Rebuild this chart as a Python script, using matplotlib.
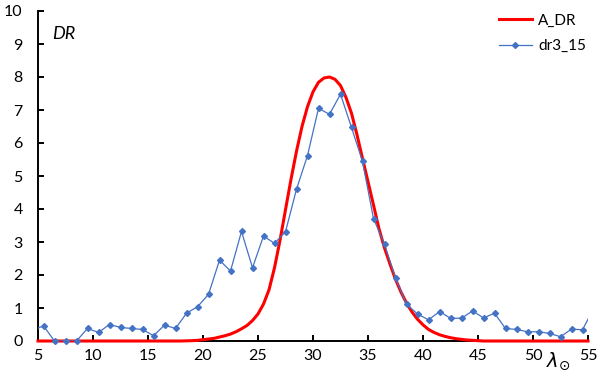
import matplotlib
matplotlib.use("Agg")
import matplotlib.pyplot as plt
from matplotlib.lines import Line2D

plt.rcParams['font.family'] = ['Lato', 'DejaVu Sans']

# dr3_15 measured points (half-integer solar longitudes)
dr_x = [4.5, 5.5, 6.5, 7.5, 8.5, 9.5, 10.5, 11.5, 12.5, 13.5, 14.5, 15.5, 16.5,
        17.5, 18.5, 19.5, 20.5, 21.5, 22.5, 23.5, 24.5, 25.5, 26.5, 27.5, 28.5,
        29.5, 30.5, 31.5, 32.5, 33.5, 34.5, 35.5, 36.5, 37.5, 38.5, 39.5, 40.5,
        41.5, 42.5, 43.5, 44.5, 45.5, 46.5, 47.5, 48.5, 49.5, 50.5, 51.5, 52.5,
        53.5, 54.5, 55.5]
dr_y = [0.32, 0.46, 0.0, 0.0, 0.0, 0.38, 0.26, 0.50, 0.41, 0.38, 0.35, 0.16, 0.48,
        0.38, 0.84, 1.04, 1.41, 2.45, 2.12, 3.32, 2.22, 3.18, 2.96, 3.31, 4.60,
        5.62, 7.05, 6.87, 7.48, 6.47, 5.44, 3.71, 2.93, 1.90, 1.11, 0.82, 0.64,
        0.89, 0.69, 0.69, 0.91, 0.70, 0.84, 0.38, 0.35, 0.28, 0.28, 0.23, 0.13,
        0.36, 0.34, 0.98]

# A_DR model curve
a_x = [5, 18, 19, 19.5, 20, 20.5, 21, 21.5, 22, 22.5, 23, 23.5, 24, 24.5, 25, 25.5,
       26, 26.5, 27, 27.5, 28, 28.5, 29, 29.5, 30, 30.5, 31, 31.5, 32, 32.5, 33,
       33.5, 34, 34.5, 35, 35.5, 36, 36.5, 37, 37.5, 38, 38.5, 39, 39.5, 40,
       40.5, 41, 41.5, 42, 42.5, 43, 43.5, 44, 44.5, 45, 45.5, 46, 55]
a_y = [0.0, 0.0, 0.01, 0.02, 0.04, 0.06, 0.08, 0.12, 0.16, 0.21, 0.28, 0.37, 0.47,
       0.62, 0.82, 1.12, 1.55, 2.22, 3.05, 3.98, 4.90, 5.75, 6.50, 7.10, 7.55,
       7.84, 7.97, 8.00, 7.93, 7.74, 7.38, 6.90, 6.25, 5.53, 4.83, 4.12, 3.40,
       2.82, 2.33, 1.87, 1.48, 1.15, 0.88, 0.66, 0.49, 0.35, 0.26, 0.19, 0.14,
       0.10, 0.07, 0.05, 0.03, 0.02, 0.01, 0.0, 0.0, 0.0]

x_ticks = [5, 10, 15, 20, 25, 30, 35, 40, 45, 50, 55]
y_ticks = list(range(0, 11))

red = '#FF0000'
blue = '#4472C4'

fig = plt.figure(figsize=(6.05, 3.78), dpi=100)
ax = fig.add_axes([38 / 605, 1 - 341 / 378, 550 / 605, 330 / 378])

ax.plot(a_x, a_y, color=red, lw=2.2, zorder=4, clip_on=False)
ax.plot(dr_x, dr_y, color=blue, lw=0.9, zorder=5)
# markers only inside the range, unclipped so the ones on 0 stay whole
mx = [x for x in dr_x if 5 <= x <= 55]
my = [y for x, y in zip(dr_x, dr_y) if 5 <= x <= 55]
ax.plot(mx, my, ls='none', marker='D', ms=3.0, color=blue, zorder=6, clip_on=False)

ax.set_xlim(5, 55)
ax.set_ylim(0, 10)
ax.set_xticks(x_ticks)
ax.set_yticks(y_ticks)
ax.tick_params(axis='both', direction='in', length=4, width=1.4, labelsize=11.5,
               colors='black')
ax.tick_params(axis='x', pad=6)
ax.tick_params(axis='y', pad=11)
for s in ['top', 'right']:
    ax.spines[s].set_visible(False)
for s in ['left', 'bottom']:
    ax.spines[s].set_linewidth(1.4)
    ax.spines[s].set_color('black')

ax.text(6.3, 9.3, 'DR', style='italic', fontsize=13, va='center', ha='left')
fig.text(558 / 605, 1 - 361 / 378, r'$\lambda_{\odot}$', fontsize=14,
         ha='center', va='center')

handles = [Line2D([], [], color=red, lw=2.2),
           Line2D([], [], color=blue, lw=0.9, marker='D', ms=3.0)]
ax.legend(handles, ['A_DR', 'dr3_15'], loc='upper right', frameon=False,
          fontsize=11, handlelength=2.2, handletextpad=0.4, labelspacing=0.75,
          bbox_to_anchor=(600 / 605, 1.0), bbox_transform=fig.transFigure)

fig.savefig('out.png', dpi=100)
